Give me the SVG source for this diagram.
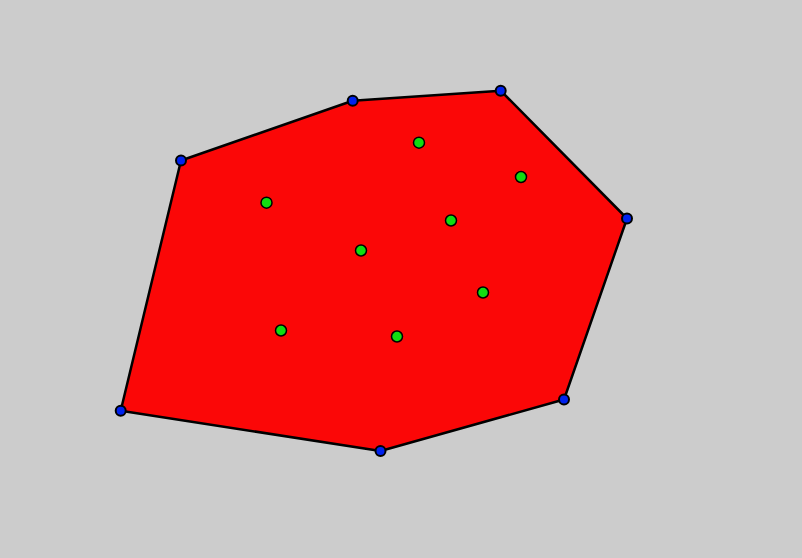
<svg xmlns="http://www.w3.org/2000/svg" width="802" height="558" viewBox="0 0 802 558">
<style>
.hull{fill:#fb0707;stroke:#000;stroke-width:2.5;stroke-linejoin:round}
.pt{fill:#11dd11;stroke:#000;stroke-width:1.5}
.v{fill:#0022ee;stroke:#000;stroke-width:2}
</style>
<rect width="802" height="558" fill="#cccccc"/>
<g id="hull">
<polygon class="hull" points="352.7,100.7 500.7,90.7 627,218.5 564,399.5 380.5,451 120.7,410.7 181,160.5"/>
</g>
<g id="points">
<circle class="pt" cx="419" cy="142.7" r="5.5"/>
<circle class="pt" cx="521" cy="177" r="5.5"/>
<circle class="pt" cx="266.5" cy="202.7" r="5.5"/>
<circle class="pt" cx="451" cy="220.5" r="5.5"/>
<circle class="pt" cx="361" cy="250.5" r="5.5"/>
<circle class="pt" cx="483" cy="292.5" r="5.5"/>
<circle class="pt" cx="281" cy="330.5" r="5.5"/>
<circle class="pt" cx="397" cy="336.5" r="5.5"/>
</g>
<g id="vertices">
<circle class="v" cx="352.7" cy="100.7" r="5"/>
<circle class="v" cx="500.7" cy="90.7" r="5"/>
<circle class="v" cx="627" cy="218.5" r="5"/>
<circle class="v" cx="564" cy="399.5" r="5"/>
<circle class="v" cx="380.5" cy="451" r="5"/>
<circle class="v" cx="120.7" cy="410.7" r="5"/>
<circle class="v" cx="181" cy="160.5" r="5"/>
</g>
</svg>
